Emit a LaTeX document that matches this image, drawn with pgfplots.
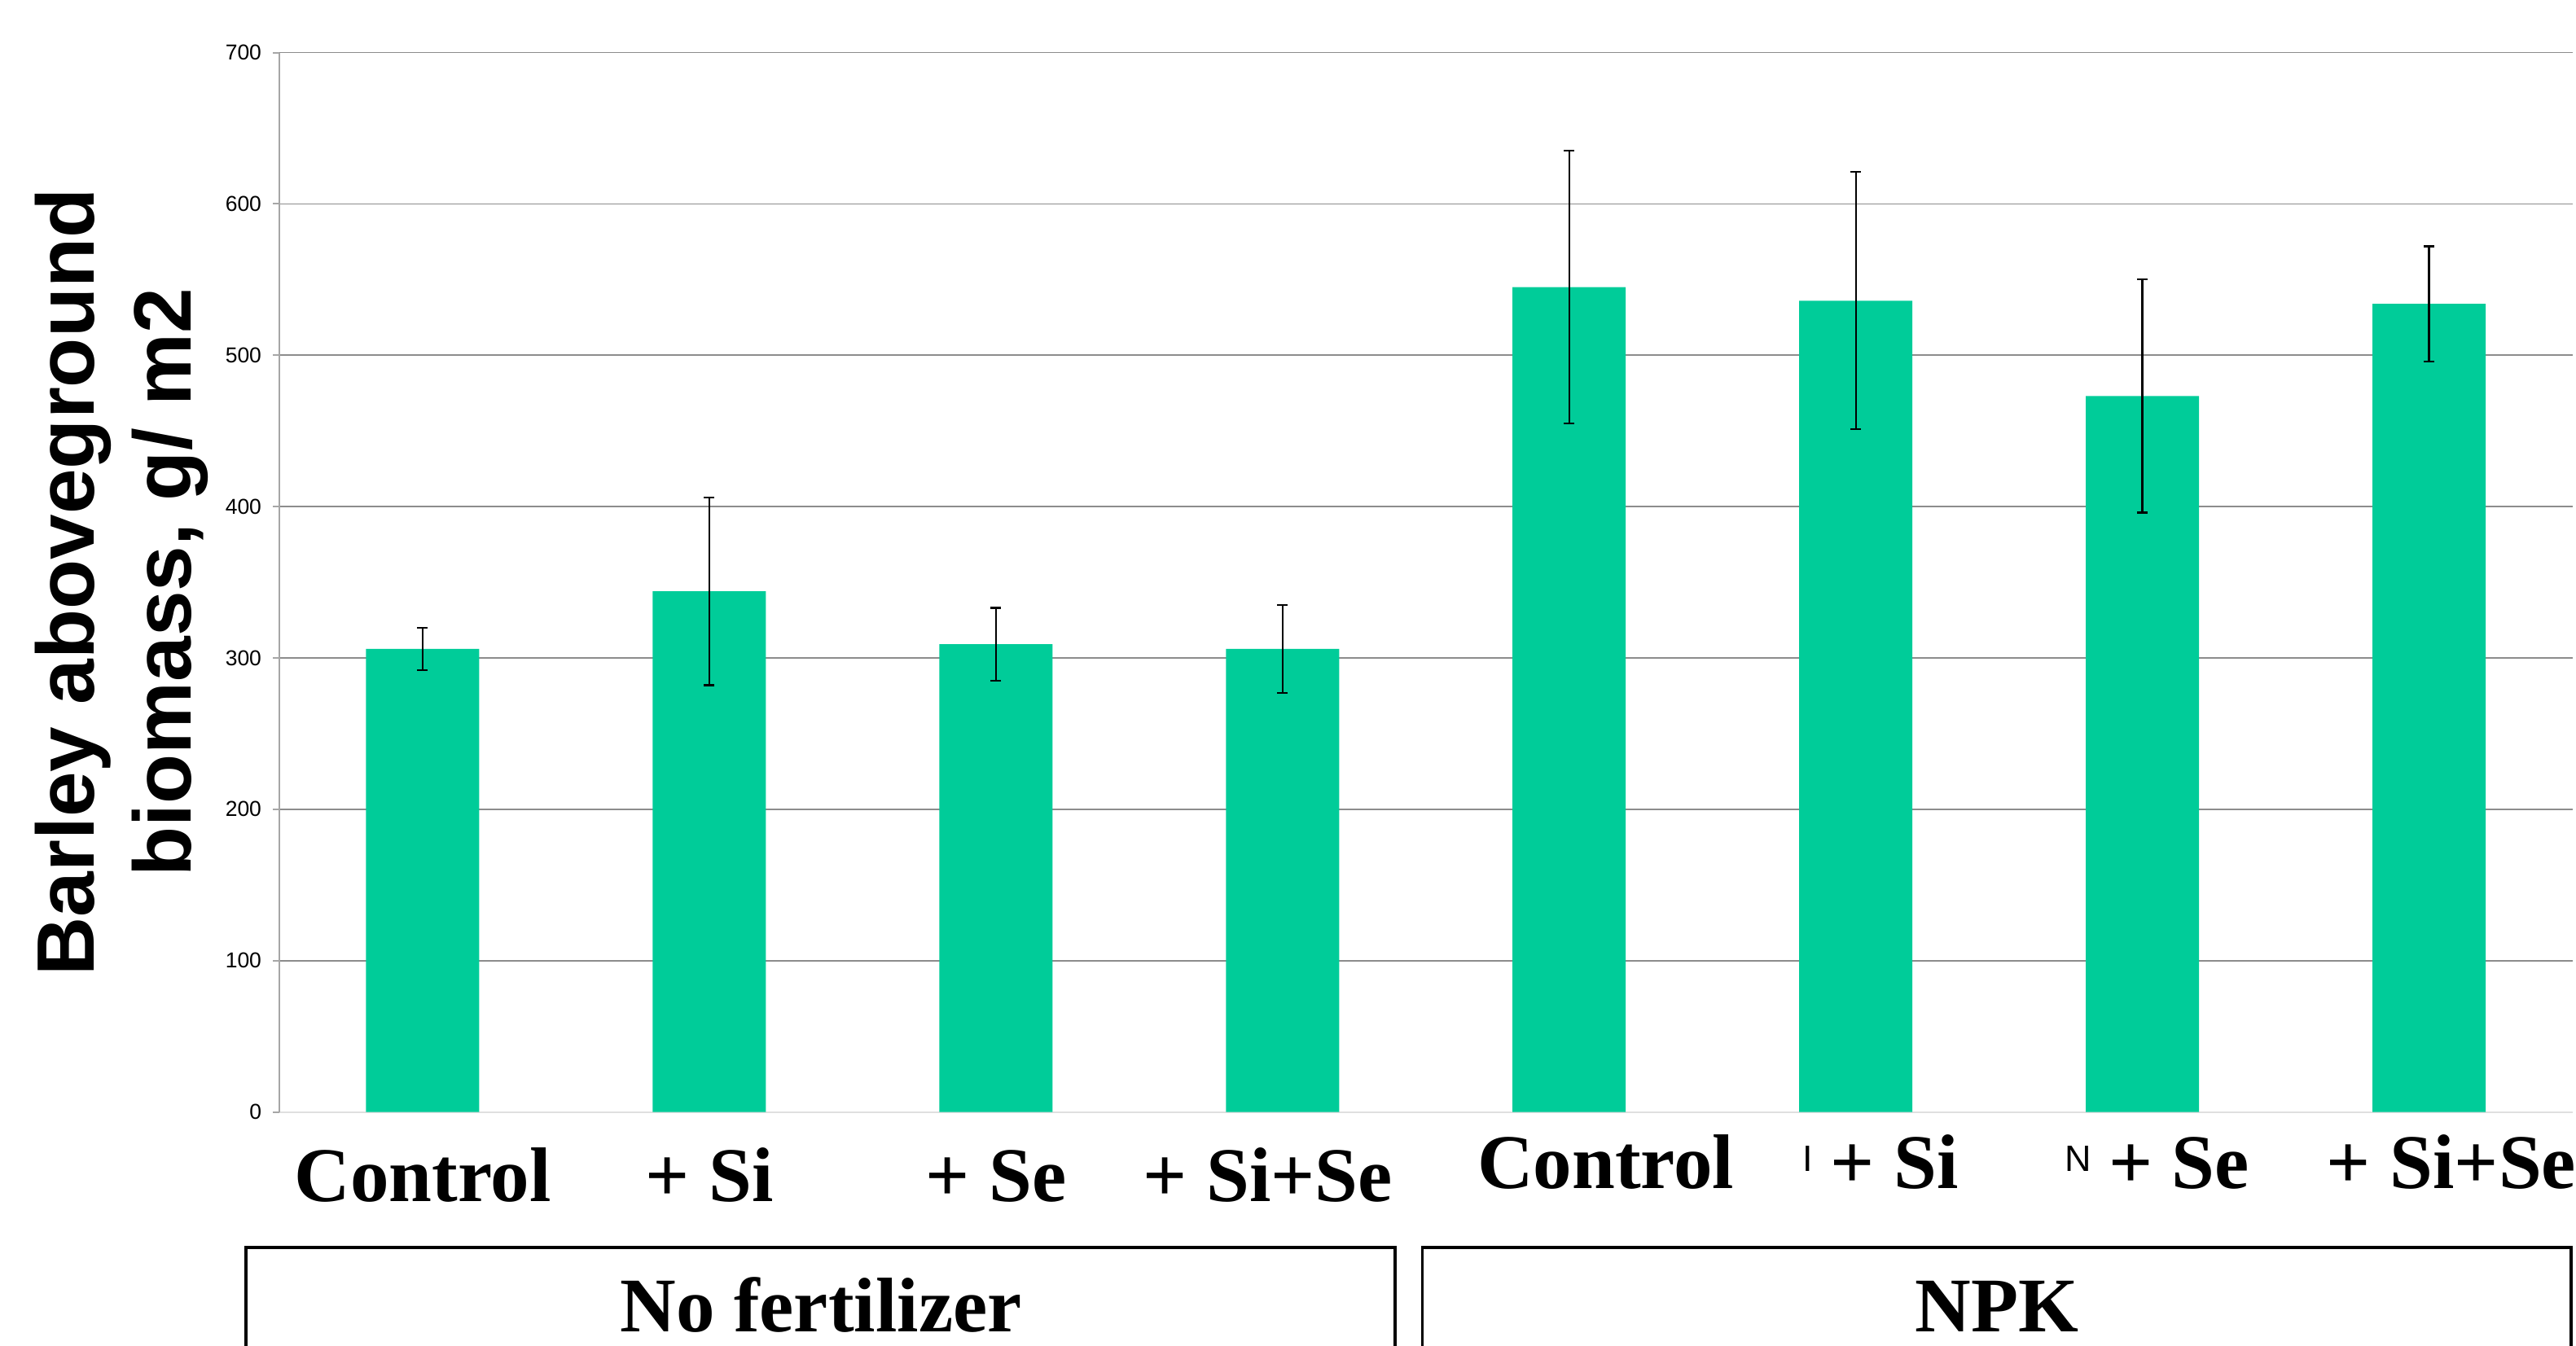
\documentclass[border=0pt]{standalone}
\usepackage{pgfplots}
\pgfplotsset{compat=1.18}
\usepackage{pgfplotstable}
\usepackage{fontspec}
\setmainfont{Liberation Serif}
\newfontfamily\arialfont{Liberation Sans}
\definecolor{barc}{RGB}{0,204,153}
\definecolor{gridc}{RGB}{140,140,140}
\pgfplotstableread{
x y e
0 306 14
1 344 62
2 309 24
3 306 29
4 545 90
5 536 85
6 473 77
7 534 38
}\biomass
\begin{document}
\begin{tikzpicture}
\begin{axis}[
  at={(0,0)}, anchor=south west,
  scale only axis, width=563.1pt, height=260.2pt,
  xmin=-0.5, xmax=7.5, ymin=0, ymax=700,
  axis lines*=left,
  x axis line style={draw=gray!25, line width=0.4pt},
  y axis line style={draw=gray!70, line width=0.4pt},
  ytick={0,100,...,700},
  ymajorgrids, grid style={gridc, line width=0.35pt},
  tick align=outside, major tick length=1.6pt,
  ytick style={draw=gray!70, line width=0.4pt},
  xtick={0,...,7}, xtick style={draw=none},
  xticklabels={Control,+ Si,+ Se,{+ Si+Se\hspace*{7.2pt}},
    {\raisebox{3.1pt}{\hspace*{18pt}Control}},
    {\raisebox{3.1pt}{\hspace*{19pt}+ Si}},
    {\raisebox{3.1pt}{\hspace*{18pt}+ Se}},
    {\raisebox{3.1pt}{\hspace*{11pt}+ Si+Se}}},
  xticklabel style={anchor=base, yshift=-20.3pt, inner sep=0pt,
    font=\fontsize{19}{22}\selectfont\bfseries},
  yticklabel style={font=\arialfont\fontsize{5.3}{6}\selectfont, anchor=east, inner sep=1pt, xshift=-1.6pt},
  /pgf/number format/assume math mode=true,
  ylabel={Barley aboveground\\biomass, g/ m2},
  ylabel style={at={(axis description cs:-0.0687,0.5)}, anchor=center,
    align=center, inner sep=0pt,
    font=\arialfont\fontsize{20}{23.8}\selectfont\bfseries},
  clip=false,
]
\addplot[ybar, bar width=27.8pt, fill=barc, draw=none,
  error bars/.cd, y dir=both, y explicit,
  error bar style={black, line width=0.45pt},
  error mark options={rotate=90, black, mark size=1.3pt, line width=0.45pt}]
  table[x=x, y=y, y error=e] {\biomass};
\end{axis}
% group boxes
\draw[black, line width=0.7pt] (-8.2pt,-62pt) -- (-8.2pt,-33.3pt) -- (274pt,-33.3pt) -- (274pt,-62pt);
\draw[black, line width=0.7pt] (280.7pt,-62pt) -- (280.7pt,-33.3pt) -- (562.8pt,-33.3pt) -- (562.8pt,-62pt);
\node[anchor=base, inner sep=0pt, font=\fontsize{19}{22}\selectfont\bfseries] at (133pt,-54pt) {No fertilizer};
\node[anchor=base, inner sep=0pt, font=\fontsize{19}{22}\selectfont\bfseries] at (421.8pt,-54pt) {NPK};
\node[anchor=base, inner sep=0pt, font=\arialfont\fontsize{9}{10}\selectfont] at (441.8pt,-14.5pt) {N};
\node[anchor=base, inner sep=0pt, font=\arialfont\fontsize{9}{10}\selectfont] at (375.3pt,-14.5pt) {I};
\pgfresetboundingbox
\path[use as bounding box] (-68.6pt,-57.3pt) rectangle (564pt,273.1pt);
\end{tikzpicture}
\end{document}
